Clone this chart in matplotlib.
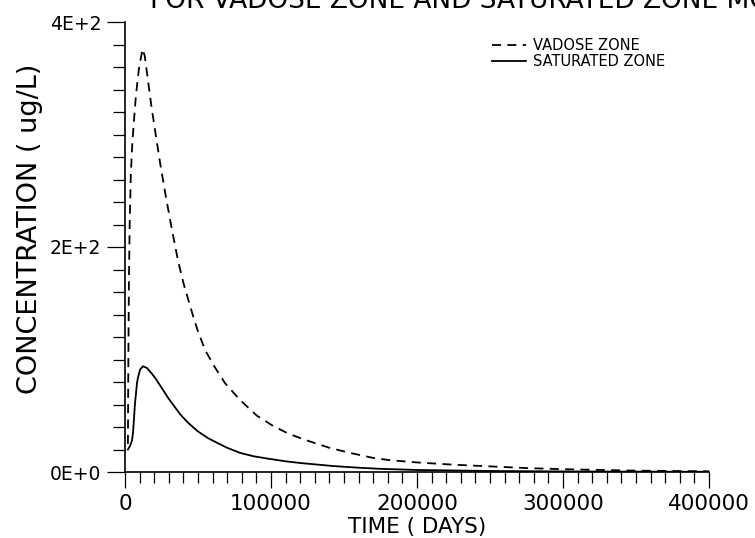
import numpy as np
import matplotlib
matplotlib.use("Agg")
import matplotlib.pyplot as plt
from matplotlib.ticker import MultipleLocator, FixedLocator, FixedFormatter

# 数据
vadose_t = [2000, 2300, 2700, 3200, 4000, 5000, 6000, 7500, 9500, 12000, 13500,
            15750, 18000, 20550, 24000, 28100, 32200, 36300, 40000, 43150, 47000,
            50000, 55000, 61600, 68500, 78800, 90400, 101400, 112000, 124700,
            140000, 154100, 170000, 181500, 200000, 225000, 250000, 275000,
            300000, 350000, 400000]
vadose_c = [25, 100, 170, 220, 265, 292, 310, 335, 358, 376, 370,
            348, 326, 304, 275, 244, 215, 188, 168, 154, 137,
            125, 108, 93, 79, 64, 50, 41, 34, 28,
            21.5, 17, 12.5, 10.5, 8.5, 6.5, 5, 3.5,
            2.5, 1.2, 0.6]

saturated_t = [2000, 3400, 4800, 5500, 6850, 8200, 8900, 10300, 12300, 15000,
               18000, 21000, 24000, 27000, 30000, 34000, 38000, 43000, 50000,
               57000, 63000, 70000, 78800, 88000, 97300, 110000, 120000, 142500,
               160000, 175000, 200000, 250000, 300000, 350000, 400000]
saturated_c = [20, 23, 28, 35, 61, 79, 84, 91, 94, 92.5,
               88, 83, 77, 71, 65, 58, 51, 44, 36,
               30, 26, 21.5, 17, 14, 12, 9.5, 8, 5.3,
               3.8, 2.8, 1.8, 0.9, 0.5, 0.3, 0.2]

y_ticks = [0, 200, 400]
y_tick_labels = ["0E+0", "2E+2", "4E+2"]
x_ticks = [0, 100000, 200000, 300000, 400000]
x_tick_labels = ["0", "100000", "200000", "300000", "400000"]

W, H = 755, 538
fig = plt.figure(figsize=(W / 100, H / 100), dpi=100)
ax = fig.add_axes([125 / W, 1 - 472 / H, 584 / W, 450 / H])

ax.plot(vadose_t, vadose_c, color="black", lw=1.3, linestyle=(0, (5, 3.5)),
        label="VADOSE ZONE")
ax.plot(saturated_t, saturated_c, color="black", lw=1.3, label="SATURATED ZONE")

ax.set_xlim(0, 400000)
ax.set_ylim(0, 400)
for s in ["top", "right"]:
    ax.spines[s].set_visible(False)
for s in ["left", "bottom"]:
    ax.spines[s].set_linewidth(1.2)

ax.xaxis.set_major_locator(FixedLocator(x_ticks))
ax.xaxis.set_major_formatter(FixedFormatter(x_tick_labels))
ax.xaxis.set_minor_locator(MultipleLocator(10000))
ax.yaxis.set_major_locator(FixedLocator(y_ticks))
ax.yaxis.set_major_formatter(FixedFormatter(y_tick_labels))
ax.yaxis.set_minor_locator(MultipleLocator(20))

ax.tick_params(axis="x", which="major", direction="out", length=11.5, width=0.9,
               labelsize=15.5, pad=4)
ax.tick_params(axis="x", which="minor", direction="out", length=8, width=0.9)
ax.tick_params(axis="y", which="major", direction="out", length=13, width=0.9,
               labelsize=13.5, pad=4)
ax.tick_params(axis="y", which="minor", direction="out", length=9, width=0.9)

fig.text(417 / W, 1 - 527 / H, "TIME ( DAYS)", fontsize=15.5,
         ha="center", va="center")
fig.text(30 / W, 1 - 229 / H, "CONCENTRATION ( ug/L)", fontsize=19.5,
         rotation=90, ha="center", va="center")

# 标题 (上半部分在原图中被裁掉)
fig.text(150 / W, 1 - 8 / H, "FOR VADOSE ZONE AND SATURATED ZONE MODELS",
         fontsize=19, ha="left", va="baseline")

ax.legend(loc="upper left", bbox_to_anchor=(492 / W, 1 - 38 / H),
          bbox_transform=fig.transFigure, frameon=False, fontsize=10.5,
          handlelength=2.3, handletextpad=0.5, labelspacing=0.1,
          borderpad=0, borderaxespad=0)

fig.savefig("out.png", dpi=100)
